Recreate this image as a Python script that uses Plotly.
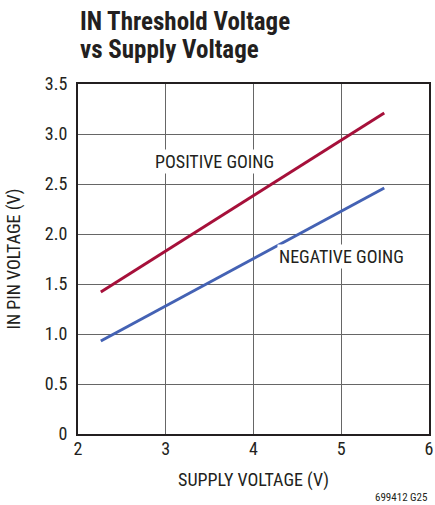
import plotly.graph_objects as go

supply_v = [2.26, 5.49]
positive_going = [1.42, 3.21]
negative_going = [0.93, 2.46]

x_ticks = [2, 3, 4, 5, 6]
x_ticktext = ["2", "3", "4", "5", "6"]
y_ticks = [0, 0.5, 1.0, 1.5, 2.0, 2.5, 3.0, 3.5]
y_ticktext = ["0", "0.5", "1.0", "1.5", "2.0", "2.5", "3.0", "3.5"]

FONT = "Liberation Sans Narrow, Arial Narrow, Roboto Condensed, Liberation Sans, sans-serif"
TXT = "#231f20"
W, H = 435, 505
ML, MR, MT, MB = 78, 6, 84, 71
PH = H - MT - MB


def py(px):
    """paper y for a pixel row"""
    return 1 + (MT - px) / PH


fig = go.Figure()
fig.add_trace(go.Scatter(x=supply_v, y=positive_going, mode="lines",
                         line=dict(color="#a6103a", width=3), showlegend=False))
fig.add_trace(go.Scatter(x=supply_v, y=negative_going, mode="lines",
                         line=dict(color="#4462b4", width=3), showlegend=False))

axis_common = dict(showgrid=True, gridcolor="#666666", gridwidth=1,
                   showline=True, linecolor="#231f20", linewidth=2, mirror=True,
                   zeroline=False, ticks="", automargin=False,
                   tickfont=dict(family=FONT, size=18, color=TXT))

fig.update_xaxes(range=[2, 6], tickvals=x_ticks, ticktext=x_ticktext,
                 ticklabelstandoff=-3,
                 title=dict(text="SUPPLY VOLTAGE (V)", font=dict(family=FONT, size=18, color=TXT), standoff=16),
                 **axis_common)
fig.update_yaxes(range=[0, 3.5], tickvals=y_ticks, ticktext=y_ticktext,
                 ticklabelstandoff=5,
                 title=dict(text="IN PIN VOLTAGE (V)", font=dict(family=FONT, size=18, color=TXT), standoff=20),
                 **axis_common)

fig.add_annotation(x=2.85, y=2.73, text="POSITIVE GOING", showarrow=False, xanchor="left",
                   font=dict(family=FONT, size=18, color=TXT), bgcolor="white", borderpad=1)
fig.add_annotation(x=4.27, y=1.78, text="NEGATIVE GOING", showarrow=False, xanchor="left",
                   font=dict(family=FONT, size=18, color=TXT), bgcolor="white", borderpad=1)

fig.add_annotation(xref="paper", yref="paper", x=0, y=py(21), xanchor="left", yanchor="middle",
                   text="<b>IN Threshold Voltage</b>", showarrow=False,
                   font=dict(family=FONT, size=25, color=TXT))
fig.add_annotation(xref="paper", yref="paper", x=0, y=py(50), xanchor="left", yanchor="middle",
                   text="<b>vs Supply Voltage</b>", showarrow=False,
                   font=dict(family=FONT, size=25, color=TXT))
fig.add_annotation(xref="paper", yref="paper", x=1.0, y=py(497), xanchor="right", yanchor="middle",
                   text="699412 G25", showarrow=False, font=dict(family=FONT, size=11, color=TXT))

fig.update_layout(
    width=W, height=H,
    margin=dict(l=ML, r=MR, t=MT, b=MB),
    paper_bgcolor="white", plot_bgcolor="white",
)

fig.write_html("out.html", config={"displayModeBar": False, "staticPlot": True})

# remove the browser's default page margin so the figure sits at the top-left corner
with open("out.html", "r", encoding="utf-8") as f:
    html = f.read()
html = html.replace("<head>", "<head><style>html,body{margin:0;padding:0;}</style>", 1)
with open("out.html", "w", encoding="utf-8") as f:
    f.write(html)
